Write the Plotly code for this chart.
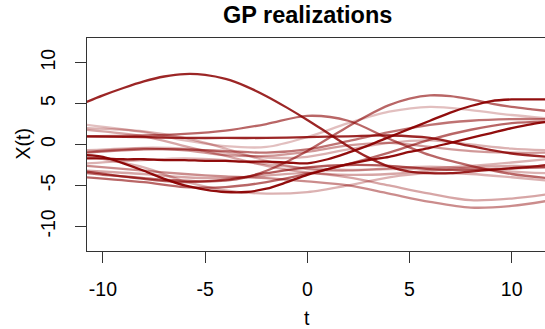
import plotly.graph_objects as go

# shared sample times (two-unit steps) and a finer grid for the steeper paths
t2 = [-10.8, -8, -6, -4, -2, 0, 2, 4, 6, 8, 10, 11.7]
t1 = [-10.8, -10, -9, -8, -7, -6, -5, -4, -3, -2, -1, 0,
      1, 2, 3, 4, 5, 6, 7, 8, 9, 10, 11, 11.7]

# realization values X(t)
x01 = [5.2, 6.0, 6.9, 7.7, 8.3, 8.6, 8.5, 8.0, 7.1, 5.9, 4.5, 3.0,
       1.4, -0.2, -1.6, -2.7, -3.3, -3.5, -3.5, -3.3, -3.1, -2.9, -2.7, -2.5]
x02 = [-3.5, -3.7, -3.9, -4.1, -4.3, -4.4, -4.5, -4.4, -4.0, -3.2, -2.1, -0.8,
       0.7, 2.2, 3.6, 4.8, 5.6, 6.0, 5.9, 5.5, 5.0, 4.6, 4.3, 4.1]
x03 = [-1.3, -1.5, -2.3, -3.2, -4.2, -5.0, -5.5, -5.8, -5.8, -5.4, -4.6, -3.7,
       -3.0, -2.4, -1.9, -1.5, -0.9, -0.4, 0.2, 0.8, 1.4, 2.0, 2.5, 2.75]
x04 = [-1.7, -1.7, -1.8, -1.8, -1.9, -1.9, -2.0, -2.0, -2.1, -2.1, -2.2, -2.3,
       -1.8, -1.0, -0.1, 0.9, 1.9, 2.9, 3.9, 4.7, 5.3, 5.5, 5.5, 5.5]
x05 = [1.0, 0.9, 0.8, 0.8, 0.8, 0.9, 1.0, 1.1, 0.8, -0.2, -1.1, -1.5]
x06 = [1.0, 1.1, 1.3, 1.7, 2.5, 3.5, 2.9, 0.7, -1.3, -2.6, -3.6, -4.1]
x07 = [2.4, 1.5, 0.5, -0.2, -0.3, 0.9, 2.6, 4.0, 4.6, 4.2, 3.6, 3.2]
x08 = [1.8, 1.0, -0.2, -1.4, -2.6, -3.4, -3.7, -3.6, -3.2, -2.8, -2.6, -2.7]
x09 = [2.0, 1.6, 0.8, -0.5, -2.0, -3.0, -3.2, -2.9, -2.7, -2.9, -3.3, -3.5]
x10 = [-0.7, -0.4, -0.5, -1.0, -1.6, -1.5, -0.6, 0.2, 0.5, 0.0, -0.5, -0.7]
x11 = [-1.0, -0.6, -0.6, -0.8, -1.0, -0.6, 0.4, 1.5, 2.4, 2.9, 3.1, 3.1]
x12 = [-2.6, -3.2, -3.6, -3.9, -4.1, -4.5, -5.0, -6.0, -7.0, -7.7, -7.5, -6.9]
x13 = [-3.2, -3.6, -4.0, -4.1, -3.8, -3.5, -4.0, -5.0, -6.0, -6.8, -6.6, -6.1]
x14 = [-1.4, -2.8, -4.5, -5.6, -6.0, -5.8, -5.0, -4.0, -3.5, -3.6, -4.0, -4.4]
x15 = [-4.0, -4.6, -5.2, -5.2, -4.6, -3.6, -2.4, -1.0, 0.6, 1.8, 2.6, 2.8]
x16 = [-3.3, -4.2, -4.6, -4.3, -3.5, -2.8, -2.5, -2.6, -3.0, -3.1, -2.9, -2.8]
x17 = [-2.3, -1.9, -1.7, -1.9, -2.4, -2.9, -3.1, -3.0, -2.9, -2.6, -2.2, -1.8]
x18 = [-0.9, -0.5, -0.7, -1.3, -1.4, -0.9, -0.1, 0.2, -0.3, -0.8, -1.0, -1.0]

realizations = [(t1, x01), (t1, x02), (t1, x03), (t1, x04),
                (t2, x05), (t2, x06), (t2, x07), (t2, x08), (t2, x09),
                (t2, x10), (t2, x11), (t2, x12), (t2, x13), (t2, x14),
                (t2, x15), (t2, x16), (t2, x17), (t2, x18)]

# opacity of each dark-red path
line_alpha = [0.85, 0.6, 0.95, 0.95, 0.85, 0.6, 0.25, 0.35, 0.3,
              0.3, 0.55, 0.45, 0.35, 0.3, 0.6, 0.65, 0.3, 0.4]

tick_vals = [-10, -5, 0, 5, 10]
tick_text = ["-10", "-5", "0", "5", "10"]

FONT = "Liberation Sans, Arial, Helvetica, sans-serif"

fig = go.Figure()
for (tt, vals), a in zip(realizations, line_alpha):
    fig.add_trace(go.Scatter(
        x=tt, y=vals, mode="lines",
        line=dict(color=f"rgba(139,0,0,{a})", width=2.3,
                  shape="spline", smoothing=0.9),
        hoverinfo="skip", showlegend=False))

axis_common = dict(
    showgrid=False, zeroline=False, showline=True,
    linecolor="#333333", linewidth=1.3,
    ticks="outside", ticklen=11, tickwidth=1.3, tickcolor="#333333",
    tickfont=dict(family=FONT, size=19.5, color="black"),
    tickvals=tick_vals, ticktext=tick_text,
)

fig.update_layout(
    width=545, height=329,
    margin=dict(l=87, r=0, t=38, b=78),
    paper_bgcolor="white", plot_bgcolor="white",
    xaxis=dict(range=[-10.78, 11.63], mirror=True,
               ticklabelstandoff=9, **axis_common),
    yaxis=dict(range=[-13, 13], tickangle=-90,
               ticklabelstandoff=12, **axis_common),
    annotations=[
        dict(text="<b>GP realizations</b>", x=0, xref="x", y=1, yref="paper",
             yshift=23, showarrow=False, yanchor="middle",
             font=dict(family=FONT, size=23.5, color="black")),
        dict(text="t", x=0, xref="x", y=0, yref="paper", yshift=-67,
             showarrow=False, yanchor="middle",
             font=dict(family=FONT, size=19.5, color="black")),
        dict(text="X(t)", x=0, xref="paper", xshift=-65, y=0, yref="y",
             textangle=-90, showarrow=False, xanchor="center",
             font=dict(family=FONT, size=19.5, color="black")),
    ],
)

fig.write_html("out.html")
